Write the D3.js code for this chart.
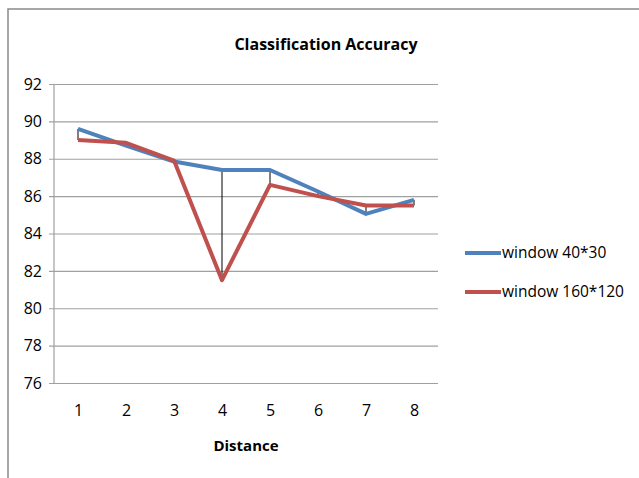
<!DOCTYPE html>
<html>
<head>
<meta charset="utf-8">
<script src="https://cdn.jsdelivr.net/npm/d3@7"></script>
<style>
  body { margin: 0; background: #fff; }
  text { font-family: "Open Sans", sans-serif; fill: #000; }
</style>
</head>
<body>
<div id="chart"></div>
<script>
// data
var distances = [1, 2, 3, 4, 5, 6, 7, 8];
var win40 = [89.6, 88.7, 87.85, 87.4, 87.4, 86.25, 85.05, 85.8];
var win160 = [89.0, 88.85, 87.9, 81.5, 86.6, 86.0, 85.5, 85.5];
var yTicks = [76, 78, 80, 82, 84, 86, 88, 90, 92];
var seriesNames = ['window 40*30', 'window 160*120'];
var colors = ['#4f81bd', '#c0504d'];

var width = 639, height = 478;
var plotLeft = 54, plotRight = 438, plotTop = 84, plotBottom = 383;

var svg = d3.select('#chart').append('svg')
  .attr('width', width)
  .attr('height', height);

// outer frame
svg.append('path')
  .attr('d', 'M8,' + height + 'V9H' + width)
  .attr('fill', 'none')
  .attr('stroke', '#8a8a8a')
  .attr('stroke-width', 1.5);

var x = d3.scalePoint()
  .domain(distances)
  .range([plotLeft, plotRight])
  .padding(0.5);

var y = d3.scaleLinear()
  .domain([76, 92])
  .range([plotBottom, plotTop]);

// gridlines + y axis
var yAxis = d3.axisLeft(y)
  .tickValues(yTicks)
  .tickSize(-(plotRight - plotLeft))
  .tickPadding(12);

var gy = svg.append('g')
  .attr('transform', 'translate(' + plotLeft + ',0)')
  .call(yAxis);
gy.select('.domain').remove();
gy.selectAll('.tick line')
  .attr('x1', -5)
  .attr('stroke', '#a0a0a0')
  .attr('stroke-width', 1.2);
gy.selectAll('.tick text')
  .style('font-size', '16px');

// vertical axis line
svg.append('line')
  .attr('x1', plotLeft).attr('x2', plotLeft)
  .attr('y1', plotTop).attr('y2', plotBottom)
  .attr('stroke', '#a0a0a0')
  .attr('stroke-width', 1.2);

// x labels
var gx = svg.append('g')
  .attr('transform', 'translate(0,' + plotBottom + ')')
  .call(d3.axisBottom(x).tickSize(0).tickPadding(22));
gx.select('.domain').remove();
gx.selectAll('.tick text')
  .style('font-size', '16px');

// high-low lines
var pairs = distances.map(function (d, i) {
  return { d: d, a: win40[i], b: win160[i] };
});
svg.selectAll('.hilo')
  .data(pairs).enter()
  .append('line')
  .attr('class', 'hilo')
  .attr('x1', function (p) { return x(p.d) })
  .attr('x2', function (p) { return x(p.d) })
  .attr('y1', function (p) { return y(p.a) })
  .attr('y2', function (p) { return y(p.b) })
  .attr('stroke', '#000')
  .attr('stroke-width', 1);

// series lines
var line = d3.line()
  .x(function (d, i) { return x(distances[i]) })
  .y(function (d) { return y(d) });

[win40, win160].forEach(function (s, i) {
  svg.append('path')
    .datum(s)
    .attr('d', line)
    .attr('fill', 'none')
    .attr('stroke', colors[i])
    .attr('stroke-width', 4)
    .attr('stroke-linejoin', 'round');
});

// title and axis title
svg.append('text')
  .attr('x', 326).attr('y', 50)
  .attr('text-anchor', 'middle')
  .style('font-size', '16px')
  .style('font-weight', 'bold')
  .text('Classification Accuracy');

svg.append('text')
  .attr('x', 246).attr('y', 451)
  .attr('text-anchor', 'middle')
  .style('font-size', '15px')
  .style('font-weight', 'bold')
  .text('Distance');

// legend
var legend = svg.selectAll('.legend')
  .data(seriesNames).enter()
  .append('g')
  .attr('class', 'legend')
  .attr('transform', function (d, i) { return 'translate(465,' + (253 + i * 39) + ')' });
legend.append('line')
  .attr('x1', 0).attr('x2', 36)
  .attr('stroke', function (d, i) { return colors[i] })
  .attr('stroke-width', 4);
legend.append('text')
  .attr('x', 37).attr('y', 5)
  .style('font-size', '15.5px')
  .text(function (d) { return d });
</script>
</body>
</html>
